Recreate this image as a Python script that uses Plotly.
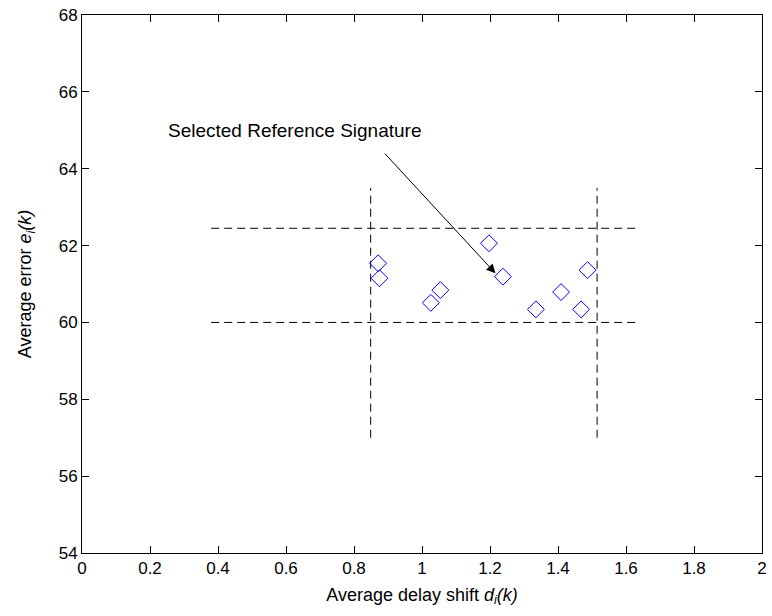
import plotly.graph_objects as go

# Data
delay_shift = [0.871, 0.875, 1.026, 1.054, 1.197, 1.238, 1.335, 1.409, 1.468, 1.487]
avg_error = [61.54, 61.15, 60.51, 60.84, 62.06, 61.19, 60.34, 60.79, 60.34, 61.36]

# Threshold box lines
h_line_levels = [62.45, 60.0]
h_line_x = [0.38, 1.64]
v_line_levels = [0.849, 1.515]
v_line_y = [57.0, 63.5]

# Annotation
arrow_tail = (0.887, 64.43)
arrow_tip = (1.216, 61.28)
label_pos = (0.626, 65.0)
label_text = "Selected Reference Signature"

x_ticks = [0, 0.2, 0.4, 0.6, 0.8, 1, 1.2, 1.4, 1.6, 1.8, 2]
x_tick_text = ["0", "0.2", "0.4", "0.6", "0.8", "1", "1.2", "1.4", "1.6", "1.8", "2"]
y_ticks = [54, 56, 58, 60, 62, 64, 66, 68]

FONT = "Liberation Sans, Arial, sans-serif"

fig = go.Figure()

for lvl in h_line_levels:
    fig.add_trace(go.Scatter(
        x=h_line_x, y=[lvl, lvl], mode="lines",
        line=dict(color="black", width=1, dash="8px,5px"),
        showlegend=False, hoverinfo="skip"))
for lvl in v_line_levels:
    fig.add_trace(go.Scatter(
        x=[lvl, lvl], y=v_line_y, mode="lines",
        line=dict(color="black", width=1, dash="8px,5px"),
        showlegend=False, hoverinfo="skip"))

fig.add_trace(go.Scatter(
    x=delay_shift, y=avg_error, mode="markers",
    marker=dict(symbol="diamond-open", size=13, color="#0000FF",
                line=dict(color="#0000FF", width=1)),
    showlegend=False))

fig.add_annotation(
    x=arrow_tip[0], y=arrow_tip[1], ax=arrow_tail[0], ay=arrow_tail[1],
    xref="x", yref="y", axref="x", ayref="y",
    text="", showarrow=True, arrowhead=2, arrowsize=1.8, arrowwidth=1,
    arrowcolor="black")
fig.add_annotation(
    x=label_pos[0], y=label_pos[1], xref="x", yref="y",
    text=label_text, showarrow=False,
    font=dict(family=FONT, size=19, color="black"))

axis_common = dict(
    showline=True, linecolor="black", linewidth=1, mirror="ticks",
    ticks="inside", ticklen=7, tickcolor="black", showgrid=False,
    zeroline=False, tickfont=dict(family=FONT, size=17, color="black"),
)

fig.update_xaxes(
    range=[0, 2], tickvals=x_ticks, ticktext=x_tick_text,
    title=dict(text="Average delay shift <i>d</i><sub><i>i</i></sub><i>(k)</i>",
               font=dict(family=FONT, size=18, color="black"), standoff=10),
    **axis_common)
fig.update_yaxes(
    range=[54, 68], tickvals=y_ticks,
    title=dict(text="Average error <i>e</i><sub><i>i</i></sub><i>(k)</i>",
               font=dict(family=FONT, size=18, color="black"), standoff=22),
    **axis_common)

fig.update_layout(
    width=772, height=616,
    margin=dict(l=82, r=5, t=15, b=63),
    plot_bgcolor="white", paper_bgcolor="white",
)

fig.write_html("out.html")
